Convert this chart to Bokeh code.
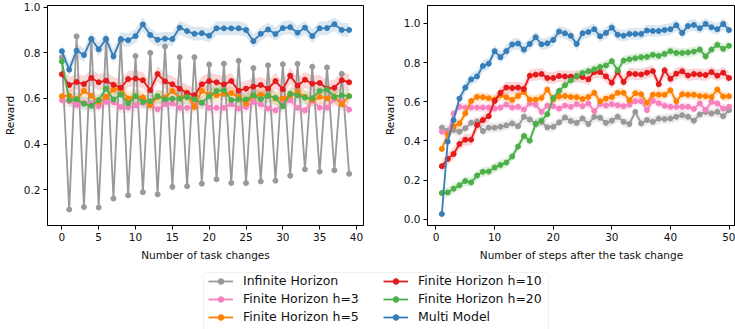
from bokeh.plotting import figure
from bokeh.layouts import row, column
from bokeh.models import (Legend, LegendItem, FixedTicker, ColumnDataSource,
                          PrintfTickFormatter, BoxAnnotation)
from bokeh.embed import file_html
from bokeh.resources import INLINE

# ---------------- data ----------------
series_names = ["Infinite Horizon", "Finite Horizon h=3", "Finite Horizon h=5",
                "Finite Horizon h=10", "Finite Horizon h=20", "Multi Model"]
series_colors = ["#999999", "#f781bf", "#ff7f00", "#e41a1c", "#4daf4a", "#377eb8"]

left_x = list(range(40))
left_inf = [0.78, 0.114, 0.872, 0.125, 0.86, 0.123, 0.86, 0.162, 0.855, 0.176,
            0.786, 0.19, 0.80, 0.18, 0.827, 0.213, 0.781, 0.216, 0.781, 0.227,
            0.749, 0.246, 0.752, 0.23, 0.765, 0.23, 0.733, 0.237, 0.745, 0.24,
            0.75, 0.262, 0.752, 0.29, 0.739, 0.28, 0.736, 0.286, 0.708, 0.27]
left_h3 = [0.592, 0.588, 0.572, 0.581, 0.578, 0.566, 0.585, 0.583, 0.563, 0.56,
           0.57, 0.581, 0.575, 0.553, 0.575, 0.578, 0.559, 0.559, 0.57, 0.582,
           0.559, 0.559, 0.559, 0.575, 0.556, 0.563, 0.585, 0.575, 0.556, 0.548,
           0.578, 0.592, 0.559, 0.548, 0.592, 0.56, 0.56, 0.597, 0.585, 0.551]
left_h5 = [0.61, 0.612, 0.596, 0.633, 0.612, 0.585, 0.607, 0.639, 0.643, 0.60,
           0.61, 0.605, 0.57, 0.607, 0.604, 0.633, 0.60, 0.619, 0.563, 0.633,
           0.617, 0.614, 0.621, 0.624, 0.607, 0.578, 0.612, 0.617, 0.612, 0.60,
           0.60, 0.613, 0.628, 0.607, 0.593, 0.607, 0.60, 0.607, 0.575, 0.61]
left_h10 = [0.706, 0.659, 0.672, 0.663, 0.69, 0.671, 0.678, 0.66, 0.647, 0.685,
            0.687, 0.68, 0.636, 0.707, 0.675, 0.662, 0.643, 0.624, 0.614, 0.662,
            0.676, 0.671, 0.662, 0.676, 0.634, 0.643, 0.652, 0.659, 0.643, 0.676,
            0.64, 0.70, 0.656, 0.682, 0.665, 0.668, 0.643, 0.647, 0.68, 0.671]
left_h20 = [0.762, 0.593, 0.597, 0.577, 0.568, 0.593, 0.643, 0.596, 0.617, 0.578,
            0.61, 0.585, 0.588, 0.61, 0.596, 0.599, 0.599, 0.607, 0.597, 0.581,
            0.61, 0.633, 0.636, 0.593, 0.596, 0.596, 0.614, 0.597, 0.612, 0.603,
            0.566, 0.621, 0.614, 0.604, 0.601, 0.633, 0.639, 0.607, 0.614, 0.61]
left_mm = [0.807, 0.726, 0.81, 0.79, 0.86, 0.815, 0.86, 0.784, 0.86, 0.855,
           0.873, 0.924, 0.878, 0.857, 0.862, 0.86, 0.91, 0.895, 0.883, 0.886,
           0.875, 0.907, 0.907, 0.907, 0.907, 0.90, 0.851, 0.883, 0.902, 0.882,
           0.908, 0.912, 0.888, 0.91, 0.873, 0.907, 0.908, 0.925, 0.90, 0.90]
left_band = [0.03, 0.025, 0.03, 0.035, 0.03, 0.03]

right_x = list(range(1, 51))
right_inf = [0.467, 0.452, 0.455, 0.447, 0.464, 0.492, 0.499, 0.45, 0.467, 0.467,
             0.472, 0.479, 0.489, 0.475, 0.523, 0.509, 0.489, 0.497, 0.469, 0.472,
             0.494, 0.519, 0.501, 0.492, 0.514, 0.486, 0.523, 0.518, 0.492, 0.503,
             0.523, 0.497, 0.486, 0.548, 0.489, 0.506, 0.497, 0.513, 0.511, 0.514,
             0.523, 0.531, 0.523, 0.503, 0.535, 0.548, 0.54, 0.548, 0.526, 0.557]
right_h3 = [0.447, 0.438, 0.54, 0.574, 0.57, 0.57, 0.57, 0.57, 0.57, 0.565,
            0.57, 0.585, 0.57, 0.574, 0.56, 0.591, 0.585, 0.548, 0.58, 0.577,
            0.565, 0.58, 0.574, 0.587, 0.577, 0.591, 0.552, 0.587, 0.58, 0.587,
            0.582, 0.577, 0.584, 0.602, 0.602, 0.557, 0.604, 0.592, 0.579, 0.574,
            0.574, 0.574, 0.574, 0.563, 0.591, 0.557, 0.599, 0.591, 0.565, 0.574]
right_h5 = [0.359, 0.433, 0.475, 0.489, 0.54, 0.604, 0.624, 0.623, 0.618, 0.611,
            0.633, 0.623, 0.609, 0.629, 0.65, 0.611, 0.611, 0.619, 0.662, 0.611,
            0.626, 0.629, 0.624, 0.623, 0.614, 0.624, 0.645, 0.602, 0.616, 0.624,
            0.645, 0.645, 0.607, 0.643, 0.638, 0.594, 0.636, 0.636, 0.635, 0.658,
            0.602, 0.638, 0.635, 0.635, 0.629, 0.628, 0.624, 0.662, 0.626, 0.628]
right_h10 = [0.271, 0.308, 0.333, 0.384, 0.406, 0.406, 0.481, 0.506, 0.526, 0.604,
             0.645, 0.672, 0.67, 0.672, 0.665, 0.733, 0.738, 0.741, 0.721, 0.721,
             0.731, 0.729, 0.728, 0.729, 0.726, 0.714, 0.751, 0.751, 0.729, 0.697,
             0.753, 0.701, 0.743, 0.741, 0.739, 0.748, 0.756, 0.689, 0.76, 0.717,
             0.743, 0.755, 0.734, 0.741, 0.739, 0.736, 0.751, 0.733, 0.748, 0.721]
right_h20 = [0.134, 0.137, 0.156, 0.173, 0.195, 0.188, 0.223, 0.242, 0.244, 0.264,
             0.277, 0.289, 0.32, 0.371, 0.425, 0.401, 0.486, 0.503, 0.536, 0.619,
             0.655, 0.684, 0.709, 0.731, 0.746, 0.756, 0.765, 0.777, 0.785, 0.807,
             0.76, 0.81, 0.816, 0.822, 0.827, 0.829, 0.839, 0.834, 0.844, 0.858,
             0.849, 0.849, 0.851, 0.856, 0.866, 0.831, 0.866, 0.89, 0.87, 0.885]
right_mm = [0.027, 0.396, 0.506, 0.616, 0.672, 0.714, 0.729, 0.782, 0.794, 0.858,
            0.827, 0.858, 0.892, 0.897, 0.866, 0.895, 0.929, 0.893, 0.898, 0.915,
            0.958, 0.949, 0.936, 0.895, 0.949, 0.956, 0.97, 0.934, 0.951, 0.978,
            0.942, 0.937, 0.946, 0.946, 0.946, 0.963, 0.961, 0.961, 0.966, 0.97,
            0.99, 0.951, 0.986, 0.992, 0.975, 0.997, 0.98, 0.97, 0.997, 0.966]
right_band = [0.025, 0.022, 0.025, 0.03, 0.025, 0.03]

left_xticks = [0, 5, 10, 15, 20, 25, 30, 35, 40]
left_yticks = [0.2, 0.4, 0.6, 0.8, 1.0]
right_xticks = [0, 10, 20, 30, 40, 50]
right_yticks = [0.0, 0.2, 0.4, 0.6, 0.8, 1.0]

FONT = "DejaVu Sans"


def style(p, xticks, yticks, xlabel, ylabel):
    p.grid.visible = False
    p.outline_line_color = "black"
    p.outline_line_width = 1
    p.xaxis.ticker = FixedTicker(ticks=xticks)
    p.yaxis.ticker = FixedTicker(ticks=yticks)
    p.yaxis.formatter = PrintfTickFormatter(format="%.1f")
    for ax in (p.xaxis[0], p.yaxis[0]):
        ax.axis_line_color = "black"
        ax.major_tick_line_color = "black"
        ax.minor_tick_line_color = None
        ax.major_tick_out = 4
        ax.major_tick_in = 0
        ax.major_label_text_font = FONT
        ax.major_label_text_font_size = "10.5px"
        ax.major_label_text_color = "#111111"
        ax.axis_label_text_font = FONT
        ax.axis_label_text_font_size = "10.5px"
        ax.axis_label_text_font_style = "normal"
        ax.axis_label_text_color = "#111111"
        ax.major_label_standoff = 3
        ax.axis_label_standoff = 5
    p.xaxis.axis_label = xlabel
    p.yaxis.axis_label = ylabel


def draw(p, xs, ys_list, bands):
    for ys, c, b in zip(ys_list, series_colors, bands):
        lo = [v - b for v in ys]
        hi = [v + b for v in ys]
        p.varea(x=xs, y1=lo, y2=hi, fill_color=c, fill_alpha=0.18)
    for ys, c in zip(ys_list, series_colors):
        p.line(xs, ys, line_color=c, line_width=1.8)
        p.scatter(xs, ys, size=5, fill_color=c, line_color=c)


p1 = figure(width=380, height=268, x_range=(-1.95, 40.95), y_range=(0.044, 1.007),
            min_border_left=47, min_border_right=17, min_border_top=5, min_border_bottom=43,
            output_backend="svg", toolbar_location=None)
draw(p1, left_x, [left_inf, left_h3, left_h5, left_h10, left_h20, left_mm], left_band)
style(p1, left_xticks, left_yticks, "Number of task changes", "Reward")

p2 = figure(width=355, height=268, x_range=(-1.45, 51.1), y_range=(-0.032, 1.091),
            min_border_left=47, min_border_right=0, min_border_top=5, min_border_bottom=43,
            output_backend="svg", toolbar_location=None)
draw(p2, right_x, [right_inf, right_h3, right_h5, right_h10, right_h20, right_mm], right_band)
style(p2, right_xticks, right_yticks, "Number of steps after the task change", "Reward")

# legend panel: x/y ranges equal the panel's pixel size
LW, LH = 735, 61
pl = figure(width=LW, height=LH, x_range=(0, LW), y_range=(0, LH),
            x_axis_type=None, y_axis_type=None, min_border=0,
            output_backend="svg", toolbar_location=None)
pl.grid.visible = False
pl.outline_line_color = None

# legend frame
pl.add_layout(BoxAnnotation(left=203, right=548, top=LH - 4, bottom=-10,
                            fill_color="white", fill_alpha=0.8,
                            line_color="#cccccc", line_width=1,
                            border_radius=3))

items = []
for name, c in zip(series_names, series_colors):
    src = ColumnDataSource(data=dict(x=[-100], y=[-100]))
    lr = pl.line("x", "y", source=src, line_color=c, line_width=1.8)
    sr = pl.scatter("x", "y", source=src, size=5, fill_color=c, line_color=c)
    items.append(LegendItem(label=name, renderers=[lr, sr]))

common = dict(label_text_font=FONT, label_text_font_size="12.5px",
              label_text_color="#111111",
              glyph_width=25, glyph_height=14, label_height=14,
              label_standoff=10, spacing=3, padding=5, margin=0,
              border_line_color=None, background_fill_alpha=0)
pl.add_layout(Legend(items=items[:3], location=(208, 5), **common))
pl.add_layout(Legend(items=items[3:], location=(383, 5), **common))

layout = column(row(p1, p2), pl)
open("out.html", "w").write(file_html(layout, INLINE))
